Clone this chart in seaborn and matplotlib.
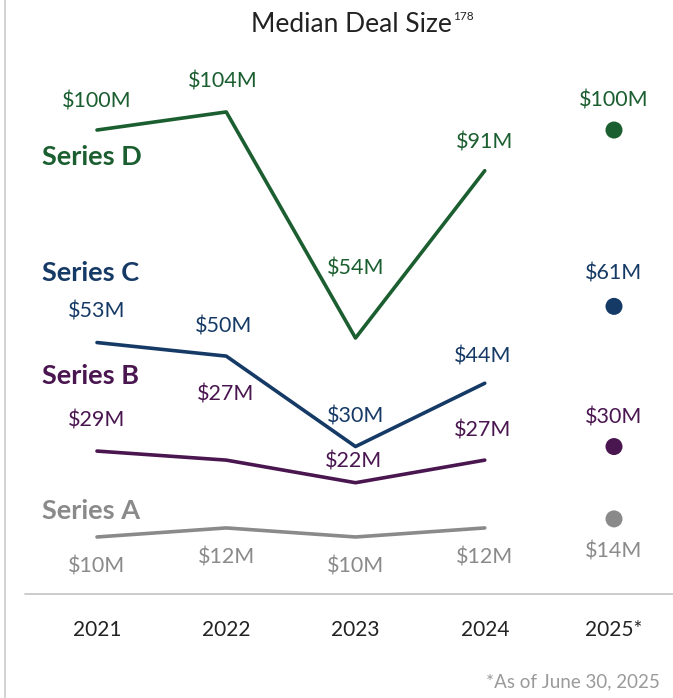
import matplotlib
matplotlib.use("Agg")
import matplotlib.pyplot as plt
import matplotlib.transforms as mtransforms
import seaborn as sns
import pandas as pd

sns.set_style("white")
plt.rcParams["font.family"] = ["Lato", "DejaVu Sans"]

# ---- data -------------------------------------------------------------
years = ["2021", "2022", "2023", "2024"]
partial_year = "2025*"
series_names = ["Series D", "Series C", "Series B", "Series A"]
series_d = [100, 104, 54, 91]
series_c = [53, 50, 30, 44]
series_b = [29, 27, 22, 27]
series_a = [10, 12, 10, 12]
ytd_2025 = [100, 61, 30, 14]  # D, C, B, A

colors = {
    "Series D": "#1b5e30",
    "Series C": "#163a66",
    "Series B": "#4a1650",
    "Series A": "#8a8a8a",
}

# label offsets in pixels (positive = above the point)
label_dy = {
    "Series D": [29, 30, 70, 28, 30],
    "Series C": [31, 30, 30, 27, 33],
    "Series B": [31, 66, 21, 30, 29],
    "Series A": [-30, -30, -30, -30, -33],
}
label_dx = {
    "Series D": [0, -3, 0, 0, 0],
    "Series C": [0, -3, 0, -2, 0],
    "Series B": [0, -1, -2, -2, 0],
    "Series A": [0, 0, 0, 0, 0],
}
# vertical position (px from top) of the series name labels
name_y = {"Series D": 157, "Series C": 273, "Series B": 376, "Series A": 511}

values = {"Series D": series_d, "Series C": series_c,
          "Series B": series_b, "Series A": series_a}

lines = pd.DataFrame(
    [(name, i, v) for name in series_names for i, v in enumerate(values[name])],
    columns=["series", "pos", "value"],
)
points = pd.DataFrame(
    {"series": series_names, "pos": [len(years)] * 4, "value": ytd_2025}
)

# ---- figure -------------------------------------------------------------
W, H = 673, 698
fig = plt.figure(figsize=(W / 100, H / 100), dpi=100)
ax = fig.add_axes([0, 0, 1, 1])

x0_px, step_px = 97, 129.25
y0_px, unit_px = 582.2, 4.5217
ax.set_xlim(-x0_px / step_px, (W - x0_px) / step_px)
ax.set_ylim((y0_px - H) / unit_px, y0_px / unit_px)
ax.axis("off")

sns.lineplot(data=lines, x="pos", y="value", hue="series", palette=colors,
             linewidth=2.6, legend=False, ax=ax, sort=True)
sns.scatterplot(data=points, x="pos", y="value", hue="series", palette=colors,
                s=150, edgecolor="none", legend=False, ax=ax, zorder=3)

# value labels
for name in series_names:
    vals = values[name] + [ytd_2025[series_names.index(name)]]
    for i, v in enumerate(vals):
        ax.annotate(f"${v}M", (i, v),
                    xytext=(label_dx[name][i] * 0.72, label_dy[name][i] * 0.72),
                    textcoords="offset points", ha="center", va="center",
                    fontsize=15.5, color=colors[name])

# series name labels
for name in series_names:
    ax.text(42 / W, 1 - name_y[name] / H, name, transform=ax.transAxes,
            ha="left", va="center", fontsize=19.5, fontweight="bold",
            color=colors[name])

# year labels under the baseline
blend = mtransforms.blended_transform_factory(ax.transData, ax.transAxes)
for i, lab in enumerate(years + [partial_year]):
    ax.text(i, 1 - 630 / H, lab, transform=blend, ha="center", va="center",
            fontsize=15, color="#222222")

# baseline and left frame line
ax.plot([25 / W, 1], [1 - 594 / H] * 2, transform=ax.transAxes,
        color="#c8c8c8", lw=1.3, clip_on=False)
ax.plot([5 / W, 5 / W], [0, 1], transform=ax.transAxes,
        color="#cfcfcf", lw=1.3, clip_on=False)

# title with footnote marker
ax.text(452 / W, 1 - 25 / H, "Median Deal Size", transform=ax.transAxes,
        ha="right", va="center", fontsize=19, color="#222222")
ax.text(453 / W, 1 - 17 / H, "178", transform=ax.transAxes,
        ha="left", va="center", fontsize=8.5, color="#222222")

# footnote
ax.text(660 / W, 1 - 682 / H, "*As of June 30, 2025", transform=ax.transAxes,
        ha="right", va="center", fontsize=13.5, color="#9a9a9a")

fig.savefig("out.png", dpi=100)
